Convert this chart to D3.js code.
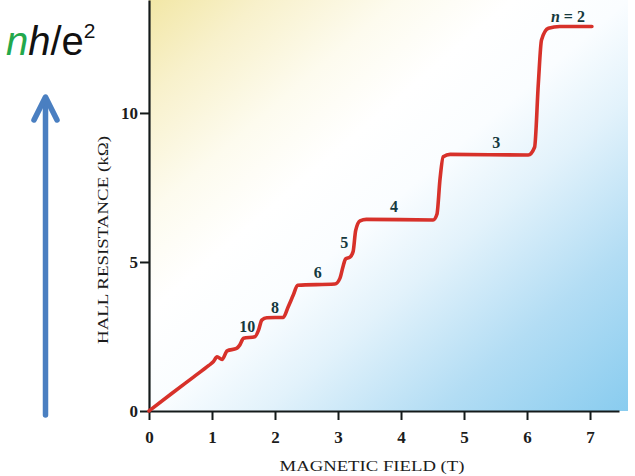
<!DOCTYPE html>
<html>
<head>
<meta charset="utf-8">
<script src="https://cdn.jsdelivr.net/npm/d3@7"></script>
<style>
  html, body { margin: 0; padding: 0; background: #ffffff; }
  svg { display: block; }
</style>
</head>
<body>
<svg id="chart" width="635" height="476"></svg>
<script>
// Magnetic field (T) and Hall resistance (kΩ) along the measured trace
const fieldT = [0, 0.35, 0.7, 0.95, 1.02, 1.08, 1.16, 1.24, 1.39, 1.44, 1.50, 1.68, 1.74, 1.79, 1.87, 2.13, 2.21,
  2.29, 2.36, 2.95, 3.03, 3.08, 3.12, 3.19, 3.24, 3.28, 3.35, 3.45, 4.51, 4.57, 4.62, 4.67, 4.78, 6.02, 6.12,
  6.18, 6.23, 6.34, 6.52, 7.03];
const hallR = [0, 0.57, 1.13, 1.53, 1.65, 1.82, 1.73, 2.02, 2.10, 2.21, 2.44, 2.49, 2.72, 3.05, 3.13, 3.14, 3.50,
  3.89, 4.22, 4.26, 4.45, 4.85, 5.10, 5.16, 5.35, 6.05, 6.38, 6.43, 6.41, 6.60, 7.80, 8.53, 8.61, 8.59, 8.85,
  11.0, 12.45, 12.84, 12.9, 12.9];

// Plateau labels (filling factor n) and where they sit, in data units
const plateauText = ["n = 2", "3", "4", "5", "6", "8", "10"];
const plateauT = [6.65, 5.51, 3.89, 3.10, 2.68, 2.0, 1.56];
const plateauR = [13.05, 8.83, 6.68, 5.47, 4.46, 3.29, 2.65];

// Axis ticks
const xTicks = [0, 1, 2, 3, 4, 5, 6, 7];
const yTicks = [0, 5, 10];

const svg = d3.select("#chart");

const x = d3.scaleLinear().domain([0, 7.46]).range([149, 619]);
const y = d3.scaleLinear().domain([0, 13.79]).range([411, 0]);

// Diagonal wash behind the plot: warm at top-left, cool at bottom-right
const defs = svg.append("defs");
const grad = defs.append("linearGradient")
  .attr("id", "wash").attr("x1", "0").attr("y1", "0").attr("x2", "1").attr("y2", "1");
[[0, "#f2e7a6"], [0.12, "#f8f1cc"], [0.26, "#fdfbee"], [0.38, "#ffffff"], [0.5, "#fafdff"],
 [0.62, "#e2f2fb"], [0.8, "#b3ddf4"], [1, "#89ccef"]].forEach(([o, c]) =>
  grad.append("stop").attr("offset", o).attr("stop-color", c));

svg.append("rect")
  .attr("x", x(0)).attr("y", y(13.79))
  .attr("width", 628 - x(0)).attr("height", y(0) - y(13.79))
  .attr("fill", "url(#wash)");

// Axes
const axisFont = "'Liberation Serif', 'DejaVu Serif', serif";

const xAxis = svg.append("g")
  .attr("transform", `translate(0,${y(0)})`)
  .call(d3.axisBottom(x).tickValues(xTicks).tickSize(9).tickSizeOuter(0).tickPadding(11)
    .tickFormat(d3.format("d")));
const yAxis = svg.append("g")
  .attr("transform", `translate(${x(0)},0)`)
  .call(d3.axisLeft(y).tickValues(yTicks).tickSize(9).tickSizeOuter(0).tickPadding(2)
    .tickFormat(d3.format("d")));

[xAxis, yAxis].forEach(g => {
  g.select(".domain").attr("stroke", "#141a1a").attr("stroke-width", 2.2);
  g.selectAll(".tick line").attr("stroke", "#141a1a").attr("stroke-width", 2);
  g.selectAll(".tick text")
    .attr("fill", "#1c1c1c")
    .style("font-family", axisFont)
    .style("font-size", "17px")
    .style("font-weight", "bold");
});

svg.append("text")
  .attr("x", 372).attr("y", 471)
  .attr("text-anchor", "middle")
  .attr("textLength", 185).attr("lengthAdjust", "spacingAndGlyphs")
  .style("font-family", axisFont).style("font-size", "15px")
  .attr("fill", "#1c1c1c")
  .text("MAGNETIC FIELD (T)");

svg.append("text")
  .attr("transform", "translate(108,240) rotate(-90)")
  .attr("text-anchor", "middle")
  .attr("textLength", 208).attr("lengthAdjust", "spacingAndGlyphs")
  .style("font-family", axisFont).style("font-size", "15px")
  .attr("fill", "#1c1c1c")
  .text("HALL RESISTANCE (kΩ)");

// Hall resistance trace
const trace = fieldT.map((b, i) => [b, hallR[i]]);
const line = d3.line()
  .x(d => x(d[0]))
  .y(d => y(d[1]))
  .curve(d3.curveMonotoneX);

svg.append("path")
  .datum(trace)
  .attr("d", line)
  .attr("fill", "none")
  .attr("stroke", "#d7312a")
  .attr("stroke-width", 3.6)
  .attr("stroke-linejoin", "round")
  .attr("stroke-linecap", "round");

// Plateau labels
const lbl = svg.append("g")
  .style("font-family", axisFont)
  .style("font-size", "16px")
  .style("font-weight", "bold")
  .attr("fill", "#15393d");

plateauText.forEach((t, i) => {
  const tx = lbl.append("text")
    .attr("x", x(plateauT[i])).attr("y", y(plateauR[i]))
    .attr("text-anchor", "middle");
  if (t.startsWith("n")) {
    tx.append("tspan").style("font-style", "italic").text("n");
    tx.append("tspan").text(t.slice(1));
  } else {
    tx.text(t);
  }
});

// nh/e² note with an upward arrow
const note = svg.append("text")
  .attr("x", 6).attr("y", 55)
  .style("font-family", "'Liberation Sans', Arial, sans-serif")
  .style("font-size", "40px");
note.append("tspan").attr("fill", "#23a84b").style("font-style", "italic").text("n");
note.append("tspan").attr("fill", "#111").style("font-style", "italic").text("h");
note.append("tspan").attr("fill", "#111").text("/e");
note.append("tspan").attr("fill", "#111").attr("dy", -17).style("font-size", "21px").text("2");

const arrow = svg.append("g")
  .attr("stroke", "#4a7fc1").attr("stroke-width", 5.5)
  .attr("stroke-linecap", "round").attr("stroke-linejoin", "round").attr("fill", "none");
arrow.append("line").attr("x1", 45.5).attr("y1", 415).attr("x2", 45.5).attr("y2", 99);
arrow.append("polyline").attr("points", "34,120 45.5,97 57,120");
</script>
</body>
</html>
